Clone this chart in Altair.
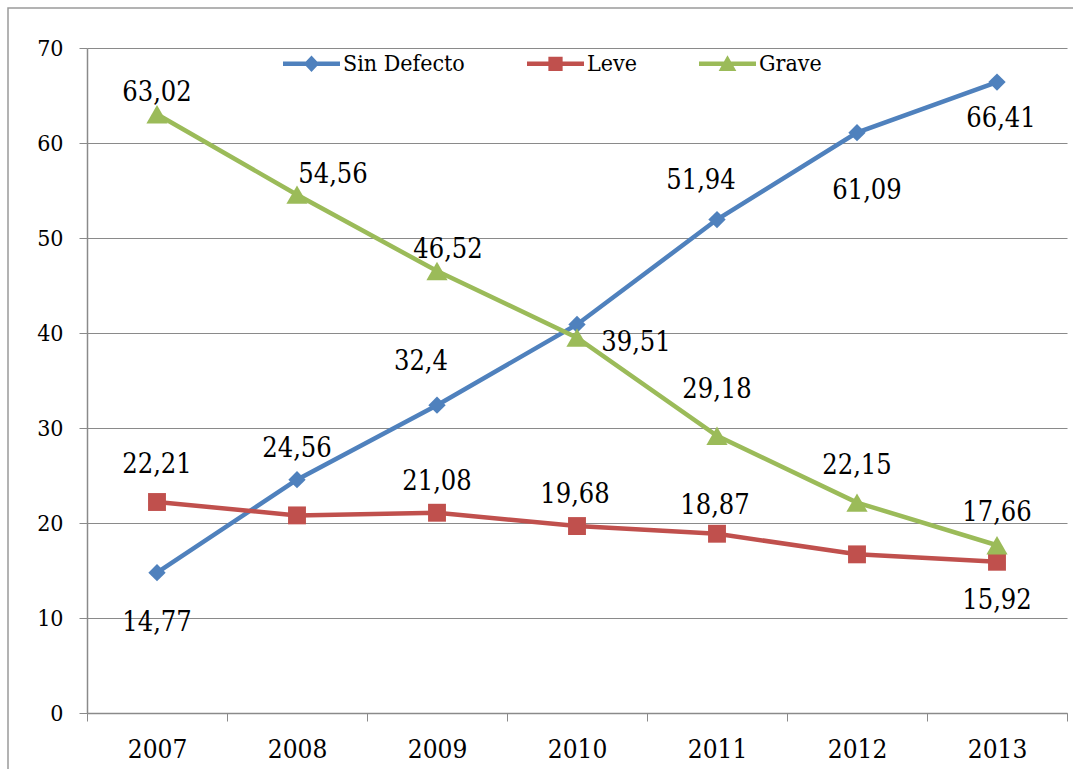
import altair as alt
import pandas as pd

# Share of vehicles by inspection result, 2007-2013
years = ["2007", "2008", "2009", "2010", "2011", "2012", "2013"]
series_names = ["Sin Defecto", "Leve", "Grave"]
sin_defecto = [14.77, 24.56, 32.4, 40.9, 51.94, 61.09, 66.41]
leve = [22.21, 20.8, 21.08, 19.68, 18.87, 16.7, 15.92]
grave = [63.02, 54.56, 46.52, 39.51, 29.18, 22.15, 17.66]

colors = ["#4F81BD", "#C0504D", "#9BBB59"]
marker_shapes = ["diamond", "square", "triangle-up"]
marker_sizes = [300, 320, 450]

# Legend glyphs: a short line segment with the series marker on it
legend_paths = [
    "M-1,-0.08H1V0.08H-1Z M0,-0.29L0.27,0L0,0.29L-0.27,0Z",
    "M-1,-0.08H1V0.08H-1Z M-0.25,-0.25H0.25V0.25H-0.25Z",
    "M-1,-0.08H1V0.08H-1Z M0,-0.3L0.31,0.25L-0.31,0.25Z",
]

# Pixel offsets (dx, dy) of the value labels that are shown
label_offsets = {
    ("Sin Defecto", "2007"): (0, 50),
    ("Sin Defecto", "2008"): (0, -31),
    ("Sin Defecto", "2009"): (-16, -43),
    ("Sin Defecto", "2011"): (-16, -39),
    ("Sin Defecto", "2012"): (10, 58),
    ("Sin Defecto", "2013"): (4, 37),
    ("Leve", "2007"): (0, -37),
    ("Leve", "2009"): (0, -31),
    ("Leve", "2010"): (-2, -31),
    ("Leve", "2011"): (-2, -28),
    ("Leve", "2013"): (0, 39),
    ("Grave", "2007"): (0, -21),
    ("Grave", "2008"): (36, -20),
    ("Grave", "2009"): (11, -21),
    ("Grave", "2010"): (59, 5),
    ("Grave", "2011"): (0, -46),
    ("Grave", "2012"): (0, -37),
    ("Grave", "2013"): (0, -32),
}

rows = []
for name, vals in zip(series_names, [sin_defecto, leve, grave]):
    for yr, v in zip(years, vals):
        rows.append({"series": name, "year": yr, "value": v,
                     "label": str(v).replace(".", ",")})
df = pd.DataFrame(rows)

FONT = "'DejaVu Serif Condensed', 'DejaVu Serif'"
GRAY = "#8A8A8A"

base = alt.Chart(df)

x_enc = alt.X(
    "year:N",
    sort=years,
    scale=alt.Scale(paddingInner=0, paddingOuter=0),
    axis=alt.Axis(
        title=None, labelAngle=0, tickBand="extent", grid=False,
        domainColor=GRAY, tickColor=GRAY, tickSize=8, domainWidth=1.5,
        labelFont=FONT, labelFontSize=26, labelColor="black", labelPadding=15,
    ),
)
y_enc = alt.Y(
    "value:Q",
    scale=alt.Scale(domain=[0, 70], nice=False, zero=True),
    axis=alt.Axis(
        title=None, values=[0, 10, 20, 30, 40, 50, 60, 70],
        grid=True, gridColor=GRAY, gridWidth=1.2,
        domainColor=GRAY, tickColor=GRAY, tickSize=8, domainWidth=1.5,
        labelFont=FONT, labelFontSize=23, labelColor="black", labelPadding=16,
    ),
)

# Chart-area frame
frame = alt.Chart(pd.DataFrame({"k": [0]})).mark_rect(
    fill="white", fillOpacity=0, stroke="#9A9A9A", strokeWidth=1.5
).encode(
    x=alt.value(-79), x2=alt.value(1000), y=alt.value(-40), y2=alt.value(770)
)

layers = [frame]

# Axes carrier (draws nothing itself)
layers.append(
    base.mark_point(opacity=0).encode(x=x_enc, y=y_enc)
)

for name, col, shp, sz in zip(series_names, colors, marker_shapes, marker_sizes):
    sub = base.transform_filter(alt.datum.series == name)
    layers.append(
        sub.mark_line(strokeWidth=4.5, color=col).encode(
            x=alt.X("year:N", sort=years), y="value:Q"
        )
    )
    layers.append(
        sub.mark_point(filled=True, opacity=1, color=col, shape=shp, size=sz,
                       strokeWidth=0).encode(
            x=alt.X("year:N", sort=years), y="value:Q"
        )
    )

for (name, yr), (dx, dy) in label_offsets.items():
    layers.append(
        base.transform_filter(
            (alt.datum.series == name) & (alt.datum.year == yr)
        ).mark_text(
            font=FONT, fontSize=27, color="black", dx=dx, dy=dy,
            baseline="middle", align="center",
        ).encode(
            x=alt.X("year:N", sort=years), y="value:Q", text="label:N"
        )
    )

# Legend built from an off-screen, clipped layer
legend_df = pd.DataFrame({"series": series_names})
legend_layer = alt.Chart(legend_df).mark_point(
    filled=True, opacity=1, clip=True, size=3249, strokeWidth=0
).encode(
    x=alt.value(0),
    y=alt.value(-900),
    color=alt.Color(
        "series:N",
        sort=series_names,
        scale=alt.Scale(domain=series_names, range=colors),
        legend=alt.Legend(title=None),
    ),
    shape=alt.Shape(
        "series:N",
        sort=series_names,
        scale=alt.Scale(domain=series_names, range=legend_paths),
        legend=alt.Legend(title=None),
    ),
)
layers.append(legend_layer)

chart = alt.layer(*layers).resolve_scale(
    color="independent", shape="independent"
).properties(
    width=980,
    height=665,
    autosize=alt.AutoSizeParams(type="none"),
    padding={"left": 87, "top": 48, "right": 6, "bottom": 56},
    background="white",
).configure_view(
    strokeWidth=0
).configure_legend(
    orient="none",
    legendX=196,
    legendY=-13,
    direction="horizontal",
    columns=3,
    columnPadding=62,
    symbolSize=3249,
    symbolStrokeWidth=0,
    symbolOpacity=1,
    labelFont=FONT,
    labelFontSize=23,
    labelColor="black",
    labelOffset=3,
    padding=0,
)

chart.save("out.html", embed_options={"renderer": "svg", "actions": False})
